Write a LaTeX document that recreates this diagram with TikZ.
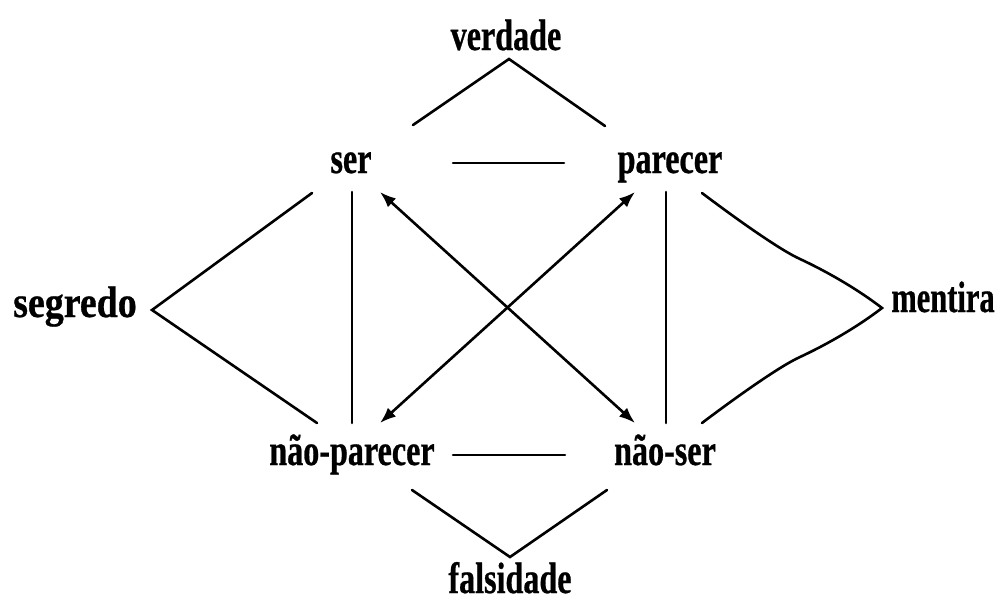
\documentclass[tikz,border=0pt]{standalone}
\usepackage{fontspec}
\setmainfont{Liberation Serif}[FakeStretch=0.73,BoldFont={Liberation Serif Bold},BoldFeatures={FakeBold=0.6}]
\usetikzlibrary{arrows.meta}
\tikzset{
  term/.style={font=\fontsize{44}{44}\selectfont\bfseries, inner sep=0pt, anchor=base},
  link/.style={line width=2.6pt, line cap=round, line join=miter},
  dual/.style={link, {Latex[length=16pt,width=12pt]}-{Latex[length=16pt,width=12pt]}}
}
\begin{document}
\begin{tikzpicture}[x=1pt,y=-1pt]
\useasboundingbox (0,0) rectangle (997,603);

% the four corners of the square and the meta-terms
\node[term] (ser)     at (351,173) {ser};
\node[term] (par)     at (670,173) {parecer};
\node[term] (npar)    at (352,465) {não-parecer};
\node[term] (nser)    at (665,465) {não-ser};
\node[term] (verd)    at (506,50)  {verdade};
\node[term] (falsi)   at (510,593) {falsidade};
\node[term] (segr)    at (75,317)  {\scalebox{1.18}[1]{segredo}};
\node[term] (ment)    at (943,312) {\scalebox{0.95}[1]{mentira}};

% end points of the free-standing strokes
\coordinate (vL) at (413,125); \coordinate (vA) at (509,59); \coordinate (vR) at (605,126);
\coordinate (fL) at (412,490); \coordinate (fA) at (510,557); \coordinate (fR) at (607,490);
\coordinate (sU) at (312,193); \coordinate (sA) at (152,310); \coordinate (sD) at (317,423);
\coordinate (mU) at (702,193); \coordinate (mA) at (882,308); \coordinate (mD) at (702,423);
\coordinate (tL) at (453,163); \coordinate (tR) at (564,163);
\coordinate (bL) at (453,455); \coordinate (bR) at (565,455);
\coordinate (lU) at (352,192); \coordinate (lD) at (352,423);
\coordinate (rU) at (666,192); \coordinate (rD) at (666,423);
\coordinate (aSer)  at (380,192); \coordinate (aNser) at (635,423);
\coordinate (aPar)  at (635,192); \coordinate (aNpar) at (380,423);

% verdade / falsidade / segredo
\draw[link] (vL) -- (vA) -- (vR);
\draw[link] (fL) -- (fA) -- (fR);
\draw[link] (sU) -- (sA) -- (sD);

% mentira: two gently waved strokes
\draw[link] (mU) .. controls (735,218) and (780,250) .. (800,259)
                 .. controls (830,273) and (860,291) .. (mA)
                 .. controls (860,325) and (830,343) .. (800,357)
                 .. controls (780,366) and (735,398) .. (mD);

% contraries and sub-contraries
\draw[link] (tL) -- (tR);
\draw[link] (bL) -- (bR);

% complementarity
\draw[link] (lU) -- (lD);
\draw[link] (rU) -- (rD);

% contradictions
\draw[dual] (aSer) -- (aNser);
\draw[dual] (aPar) -- (aNpar);
\end{tikzpicture}
\end{document}
